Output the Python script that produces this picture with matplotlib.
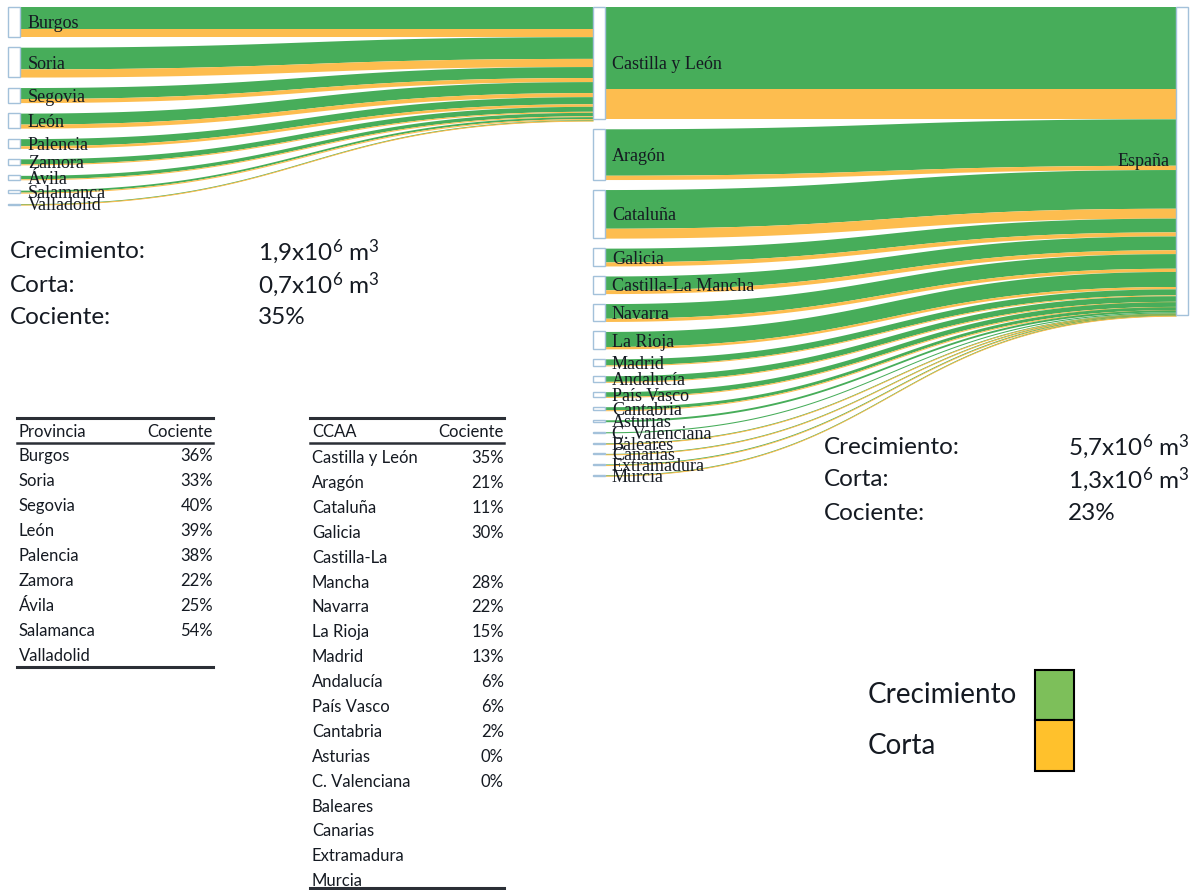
import numpy as np
import matplotlib.pyplot as plt
from matplotlib.patches import Rectangle

plt.rcParams["mathtext.fontset"] = "custom"
plt.rcParams["mathtext.rm"] = "Lato"
plt.rcParams["mathtext.it"] = "Lato:italic"
plt.rcParams["mathtext.bf"] = "Lato:bold"

PROVINCIAS = ["Burgos", "Soria", "Segovia", "León", "Palencia", "Zamora",
              "Ávila", "Salamanca", "Valladolid"]
PROV_CREC = [505, 505, 255, 255, 165, 115, 80, 45, 10]
PROV_CORTA = [185, 190, 95, 95, 60, 25, 20, 25, 3]

CCAA = ["Castilla y León", "Aragón", "Cataluña", "Galicia", "Castilla-La Mancha",
        "Navarra", "La Rioja", "Madrid", "Andalucía", "País Vasco", "Cantabria",
        "Asturias", "C. Valenciana", "Baleares", "Canarias", "Extramadura", "Murcia"]
CCAA_CREC = [1900, 1080, 900, 320, 320, 340, 350, 140, 130, 110, 70, 45, 25, 10, 10, 15, 10]
CCAA_CORTA = [700, 100, 230, 95, 90, 75, 55, 20, 8, 7, 2, 0, 0, 3, 3, 4, 3]

STATS_CYL = [("Crecimiento:", r"1,9x10$^{\mathrm{6}}$ m$^{\mathrm{3}}$"),
             ("Corta:", r"0,7x10$^{\mathrm{6}}$ m$^{\mathrm{3}}$"), ("Cociente:", "35%")]
STATS_ESP = [("Crecimiento:", r"5,7x10$^{\mathrm{6}}$ m$^{\mathrm{3}}$"),
             ("Corta:", r"1,3x10$^{\mathrm{6}}$ m$^{\mathrm{3}}$"), ("Cociente:", "23%")]

TAB_PROV = ["Burgos", "Soria", "Segovia", "León", "Palencia", "Zamora", "Ávila",
            "Salamanca", "Valladolid"]
TAB_PROV_COC = ["36%", "33%", "40%", "39%", "38%", "22%", "25%", "54%", ""]
TAB_CCAA = ["Castilla y León", "Aragón", "Cataluña", "Galicia", "Castilla-La", "Mancha",
            "Navarra", "La Rioja", "Madrid", "Andalucía", "País Vasco", "Cantabria",
            "Asturias", "C. Valenciana", "Baleares", "Canarias", "Extramadura", "Murcia"]
TAB_CCAA_COC = ["35%", "21%", "11%", "30%", "", "28%", "22%", "15%", "13%", "6%", "6%",
                "2%", "0%", "0%", "", "", "", ""]

GREEN = "#47ad5a"
ORANGE = "#fdbd4f"
NODE_EDGE = "#a3c1da"
TXT = "#151a22"
SANS = ["Lato", "DejaVu Sans"]
SERIF = ["Liberation Serif", "DejaVu Serif"]

K = 0.043     # px por mil m3
PAD = 10
NODE_W = 12


def band(ax, x0, x1, ya, yb, h, color):
    t = np.linspace(0, 1, 120)
    xm = (x0 + x1) / 2
    bx = (1 - t) ** 3 * x0 + 3 * (1 - t) ** 2 * t * xm + 3 * (1 - t) * t ** 2 * xm + t ** 3 * x1
    s = 3 * t ** 2 - 2 * t ** 3
    top = ya + (yb - ya) * s
    ax.fill_between(bx, top, top + max(h, 1.0), color=color, lw=0, zorder=1)


def sankey(ax, names, crec, corta, xs, xt, y0, lab_x, pad):
    y = y0
    yt = y0
    for name, c, o in zip(names, crec, corta):
        h = (c + o) * K
        ax.add_patch(Rectangle((xs, y), NODE_W, max(h, 1), fc="white", ec=NODE_EDGE,
                               lw=1, zorder=2))
        ys = y
        for v, col in ((c, GREEN), (o, ORANGE)):
            if v > 0:
                band(ax, xs + NODE_W, xt, ys, yt, v * K, col)
            ys += v * K
            yt += v * K
        ax.text(lab_x, y + h / 2 + 2, name, ha="left", va="center", family=SERIF,
                fontsize=13, color=TXT, zorder=4)
        y += h + pad
    return yt


fig = plt.figure(figsize=(11.95, 8.9), dpi=100)
ax = fig.add_axes([0, 0, 1, 1])
ax.set_xlim(0, 1195)
ax.set_ylim(890, 0)
ax.axis("off")

sankey(ax, PROVINCIAS, PROV_CREC, PROV_CORTA, 8, 593, 7, 28, 10.5)
y_end = sankey(ax, CCAA, CCAA_CREC, CCAA_CORTA, 593, 1176, 7, 612, PAD)
ax.add_patch(Rectangle((1176, 7), NODE_W, y_end - 7, fc="white", ec=NODE_EDGE, lw=1, zorder=2))
ax.text(1170, 162, "España", ha="right", va="center", family=SERIF, fontsize=13,
        color=TXT, zorder=4)

# cuadros de totales
for (x_lab, x_val, y0, rows) in ((10, 258, 252, STATS_CYL), (824, 1068, 447, STATS_ESP)):
    for i, (a, b) in enumerate(rows):
        yy = y0 + i * 33
        ax.text(x_lab, yy, a, ha="left", va="center", family=SANS, fontsize=17.5, color=TXT)
        ax.text(x_val, yy, b, ha="left", va="center", family=SANS, fontsize=17.5, color=TXT)


def tabla(x0, x1, head, names, vals, y_first, step, y_bottom):
    ax.plot([x0, x1], [418, 418], color="#2b2f36", lw=2.2)
    ax.plot([x0, x1], [443, 443], color="#2b2f36", lw=1.8)
    ax.plot([x0, x1], [y_bottom, y_bottom], color="#2b2f36", lw=2.2)
    ax.text(x0 + 2, 432, head, ha="left", va="center", family=SANS, fontsize=12, color=TXT)
    ax.text(x1, 432, "Cociente", ha="right", va="center", family=SANS, fontsize=12, color=TXT)
    for i, (n, v) in enumerate(zip(names, vals)):
        yy = y_first + i * step
        ax.text(x0 + 2, yy, n, ha="left", va="center", family=SANS, fontsize=12, color=TXT)
        ax.text(x1, yy, v, ha="right", va="center", family=SANS, fontsize=12, color=TXT)


tabla(17, 213, "Provincia", TAB_PROV, TAB_PROV_COC, 456, 25, 667)
tabla(310, 504, "CCAA", TAB_CCAA, TAB_CCAA_COC, 458, 24.9, 888)

# leyenda
ax.add_patch(Rectangle((1035, 670), 39, 50, fc="#7dbf5a", ec="black", lw=1.5))
ax.add_patch(Rectangle((1035, 720), 39, 51, fc="#ffc12c", ec="black", lw=1.5))
ax.text(868, 695, "Crecimiento", ha="left", va="center", family=SANS, fontsize=20, color=TXT)
ax.text(868, 746, "Corta", ha="left", va="center", family=SANS, fontsize=20, color=TXT)

fig.savefig("out.png", dpi=100)
